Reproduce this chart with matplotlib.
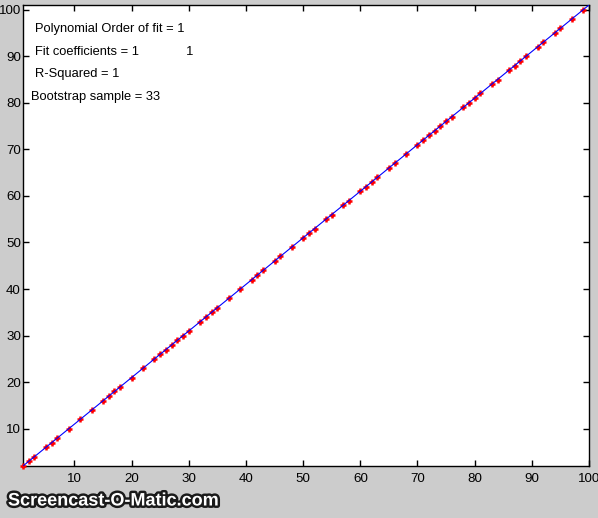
import matplotlib
matplotlib.use("Agg")
import matplotlib.pyplot as plt
import matplotlib.patheffects as pe
import numpy as np

plt.rcParams['font.family'] = ['Liberation Sans', 'DejaVu Sans']

# bootstrap sample points (x), fit is y = 1*x + 1
sample_x = [1, 2, 3, 5, 6, 7, 9, 11, 13, 15, 16, 17, 18, 20, 22, 24, 25, 26, 27,
            28, 29, 30, 32, 33, 34, 35, 37, 39, 41, 42, 43, 45, 46, 48, 50, 51,
            52, 54, 55, 57, 58, 60, 61, 62, 63, 65, 66, 68, 70, 71, 72, 73, 74,
            75, 76, 78, 79, 80, 81, 83, 84, 86, 87, 88, 89, 91, 92, 94, 95, 97, 99]
sample_y = [v + 1 for v in sample_x]
fit_coeffs = [1, 1]
fit_x = list(range(1, 101))
fit_y = [fit_coeffs[0] * v + fit_coeffs[1] for v in fit_x]
x_ticks = [10, 20, 30, 40, 50, 60, 70, 80, 90, 100]
y_ticks = [10, 20, 30, 40, 50, 60, 70, 80, 90, 100]

fig = plt.figure(figsize=(5.98, 5.18), dpi=100, facecolor='#cccccc')
ax = fig.add_axes([23 / 598, 52 / 518, 566 / 598, 461 / 518])
ax.set_facecolor('white')

ax.plot(sample_x, sample_y, linestyle='none', marker='+', color='red',
        markersize=5, markeredgewidth=1.8, zorder=4, clip_on=False)
ax.plot(fit_x, fit_y, color='blue', linewidth=0.8, zorder=5)

ax.set_xlim(1, 100)
ax.set_ylim(2, 101)
ax.set_xticks(x_ticks)
ax.set_yticks(y_ticks)
ax.tick_params(direction='in', length=4, width=1, top=True, right=True,
               labelsize=9.6, colors='black')
ax.tick_params(axis='x', pad=5)
ax.tick_params(axis='y', pad=1.5)
for s in ax.spines.values():
    s.set_linewidth(1)

# annotations
txt_kw = dict(fontsize=9.3, va='center', ha='left', color='black')
ax.text(3.05, 95.8, 'Polynomial Order of fit = 1', **txt_kw)
ax.text(3.05, 90.8, 'Fit coefficients = 1             1', **txt_kw)
ax.text(3.05, 86.2, 'R-Squared = 1', **txt_kw)
ax.text(2.35, 81.2, 'Bootstrap sample = 33', **txt_kw)

# watermark
fig.text(8 / 598, 1 - 501 / 518, 'Screencast-O-Matic.com', fontsize=13,
         fontweight='bold', color='white', va='center', ha='left',
         path_effects=[pe.withStroke(linewidth=3.5, foreground='#1a1a1a')])

plt.savefig('out.png', dpi=100, facecolor=fig.get_facecolor())
